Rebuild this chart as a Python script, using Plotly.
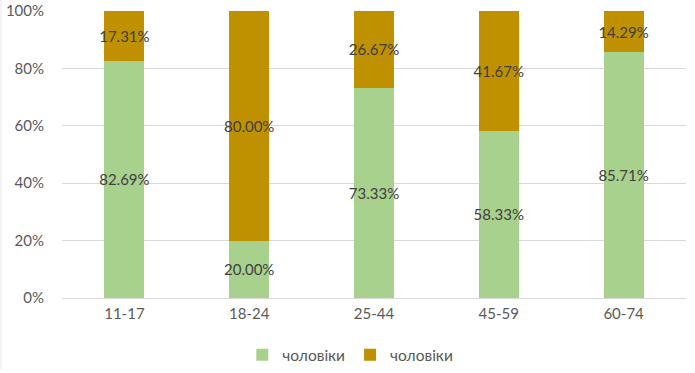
import plotly.graph_objects as go

categories = ["11-17", "18-24", "25-44", "45-59", "60-74"]
series1_name = "чоловіки"
series2_name = "чоловіки"
series1 = [82.69, 20.00, 73.33, 58.33, 85.71]
series2 = [17.31, 80.00, 26.67, 41.67, 14.29]
tick_vals = [0, 20, 40, 60, 80, 100]
tick_text = ["0%", "20%", "40%", "60%", "80%", "100%"]

font_family = "Lato, 'Open Sans', sans-serif"

fig = go.Figure()
for name, vals, color in [(series1_name, series1, "#A9D18E"), (series2_name, series2, "#BF9000")]:
    fig.add_trace(go.Bar(
        x=categories, y=vals, name=name,
        marker=dict(color=color, line=dict(width=0)),
        text=[f"{v:.2f}%" for v in vals],
        textposition="inside", insidetextanchor="middle",
        textangle=0, constraintext="none",
        textfont=dict(color="#404040", size=15, family=font_family),
        cliponaxis=False,
    ))

fig.update_layout(
    barmode="stack",
    width=695, height=373,
    margin=dict(l=62, r=9, t=11, b=75, autoexpand=False),
    paper_bgcolor="white", plot_bgcolor="white",
    bargap=0.68,
    font=dict(family=font_family, size=15, color="#595959"),
    showlegend=True,
    legend=dict(orientation="h", x=0.462, xanchor="center", y=-0.199, yanchor="middle",
                font=dict(size=15.5, color="#595959"), traceorder="normal"),
    xaxis=dict(showline=True, linecolor="#D9D9D9", linewidth=1, ticks="",
               tickfont=dict(size=15, color="#595959"), ticklabelstandoff=2),
    yaxis=dict(range=[0, 100], tickvals=tick_vals, ticktext=tick_text,
               showgrid=True, gridcolor="#D9D9D9", gridwidth=1, zeroline=False,
               tickfont=dict(size=15, color="#595959"), ticklabelstandoff=17),
    shapes=[dict(type="line", xref="paper", yref="paper", x0=-61/624, x1=-61/624,
                 y0=-71/287, y1=1 + 11/287, line=dict(color="#E6E6E6", width=1))],
)

# remove the page's default body margin so the figure sits at the window's corner
fig.write_html("out.html", config={"displayModeBar": False},
               post_script="document.body.style.margin='0';")
